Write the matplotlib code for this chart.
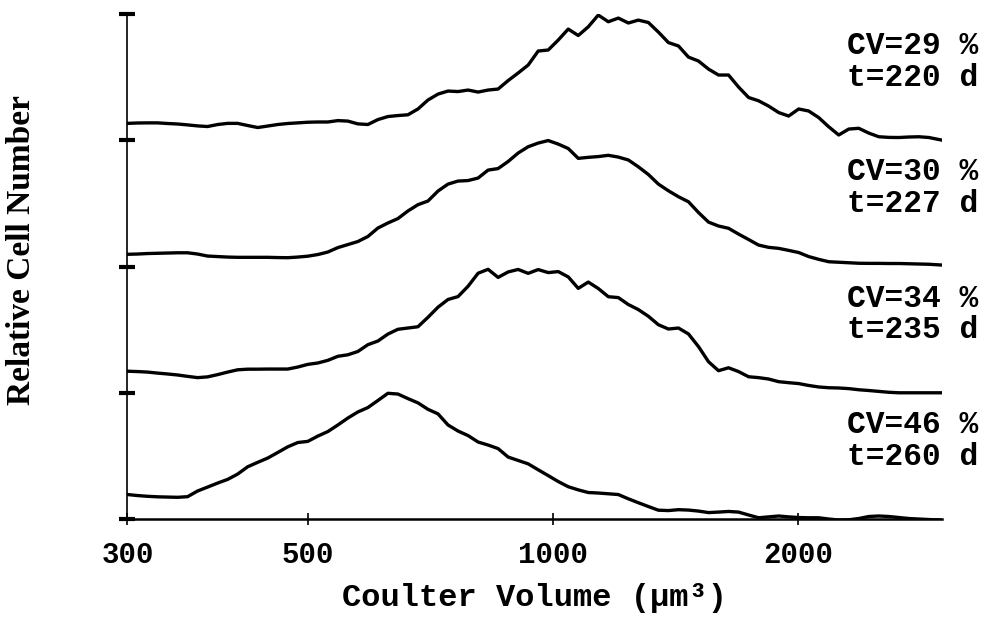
import matplotlib
matplotlib.use("Agg")
import matplotlib.pyplot as plt

# Coulter volume channels (um^3), log spaced
volume = [300.0, 308.6, 317.5, 326.6, 336.0, 345.7, 355.6, 365.8, 376.3, 387.2,
          398.3, 409.7, 421.5, 433.6, 446.1, 458.9, 472.1, 485.7, 499.6, 514.0,
          528.8, 544.0, 559.6, 575.6, 592.2, 609.2, 626.7, 644.7, 663.2, 682.3,
          701.9, 722.1, 742.8, 764.2, 786.2, 808.8, 832.0, 855.9, 880.5, 905.8,
          931.9, 958.7, 986.2, 1014.6, 1043.7, 1073.7, 1104.6, 1136.3, 1169.0, 1202.6,
          1237.2, 1272.7, 1309.3, 1346.9, 1385.7, 1425.5, 1466.5, 1508.6, 1552.0, 1596.6,
          1642.5, 1689.7, 1738.3, 1788.2, 1839.6, 1892.5, 1946.9, 2002.9, 2060.4, 2119.7,
          2180.6, 2243.3, 2307.8, 2374.1, 2442.3, 2512.5, 2584.7, 2659.0, 2735.5, 2814.1,
          2895.0, 3000.0]

# relative cell number, each histogram scaled to its maximum
counts_220d = [0.134, 0.137, 0.138, 0.138, 0.133, 0.129, 0.122, 0.114, 0.109, 0.125,
               0.134, 0.134, 0.117, 0.101, 0.113, 0.125, 0.133, 0.138, 0.143, 0.145,
               0.145, 0.156, 0.152, 0.130, 0.125, 0.164, 0.188, 0.196, 0.202, 0.248,
               0.319, 0.366, 0.390, 0.386, 0.398, 0.382, 0.398, 0.406, 0.473, 0.533,
               0.596, 0.707, 0.715, 0.794, 0.881, 0.830, 0.899, 0.992, 0.939, 0.968,
               0.929, 0.952, 0.933, 0.857, 0.774, 0.747, 0.659, 0.628, 0.564, 0.517,
               0.517, 0.422, 0.339, 0.313, 0.271, 0.220, 0.192, 0.248, 0.232, 0.180,
               0.107, 0.042, 0.089, 0.095, 0.057, 0.028, 0.023, 0.022, 0.026, 0.028,
               0.022, 0.002]

counts_227d = [0.097, 0.099, 0.103, 0.105, 0.107, 0.109, 0.109, 0.099, 0.083, 0.079,
               0.075, 0.073, 0.073, 0.073, 0.073, 0.071, 0.070, 0.075, 0.082, 0.095,
               0.115, 0.150, 0.174, 0.198, 0.238, 0.305, 0.345, 0.380, 0.440, 0.490,
               0.519, 0.598, 0.653, 0.677, 0.681, 0.701, 0.764, 0.776, 0.832, 0.899,
               0.949, 0.978, 0.998, 0.970, 0.935, 0.857, 0.865, 0.871, 0.881, 0.867,
               0.844, 0.790, 0.729, 0.653, 0.600, 0.553, 0.513, 0.428, 0.352, 0.321,
               0.303, 0.257, 0.214, 0.170, 0.152, 0.144, 0.128, 0.111, 0.079, 0.057,
               0.038, 0.034, 0.030, 0.026, 0.025, 0.025, 0.024, 0.024, 0.022, 0.020,
               0.018, 0.012]

counts_235d = [0.171, 0.168, 0.164, 0.156, 0.149, 0.141, 0.130, 0.120, 0.126, 0.144,
               0.164, 0.182, 0.187, 0.187, 0.188, 0.188, 0.188, 0.204, 0.225, 0.236,
               0.257, 0.289, 0.301, 0.327, 0.381, 0.410, 0.465, 0.503, 0.513, 0.523,
               0.598, 0.678, 0.739, 0.762, 0.844, 0.947, 0.978, 0.914, 0.957, 0.977,
               0.946, 0.976, 0.952, 0.960, 0.918, 0.827, 0.877, 0.826, 0.761, 0.754,
               0.699, 0.659, 0.606, 0.539, 0.505, 0.513, 0.466, 0.366, 0.246, 0.175,
               0.198, 0.168, 0.127, 0.120, 0.109, 0.088, 0.080, 0.073, 0.058, 0.046,
               0.040, 0.038, 0.033, 0.024, 0.018, 0.011, 0.004, 0.000, 0.000, 0.000,
               0.000, 0.000]

counts_260d = [0.194, 0.186, 0.180, 0.176, 0.174, 0.172, 0.177, 0.222, 0.253, 0.285,
               0.314, 0.356, 0.414, 0.449, 0.483, 0.527, 0.572, 0.606, 0.615, 0.657,
               0.693, 0.745, 0.800, 0.848, 0.883, 0.939, 0.996, 0.990, 0.954, 0.920,
               0.869, 0.833, 0.745, 0.697, 0.661, 0.610, 0.586, 0.558, 0.491, 0.464,
               0.437, 0.390, 0.344, 0.297, 0.256, 0.231, 0.210, 0.206, 0.200, 0.194,
               0.160, 0.129, 0.099, 0.070, 0.067, 0.074, 0.071, 0.063, 0.051, 0.055,
               0.060, 0.055, 0.032, 0.010, 0.017, 0.024, 0.017, 0.012, 0.010, 0.010,
               0.000, -0.008, -0.006, 0.004, 0.020, 0.024, 0.020, 0.012, 0.004, 0.000,
               -0.004, -0.008]

cv_percent = [29, 30, 34, 46]
age_days = [220, 227, 235, 260]
x_ticks = [300, 500, 1000, 2000]

series = [counts_220d, counts_227d, counts_235d, counts_260d]
n = len(series)

mono = "Liberation Mono"

fig = plt.figure(figsize=(9.92, 6.27), dpi=100)
ax = fig.add_axes([0.1285, 0.1722, 0.8206, 0.8054])

# stack the histograms, oldest culture at the bottom
for i, counts in enumerate(series):
    offset = n - 1 - i
    ax.plot(volume, [c + offset for c in counts], color="black", lw=2.4,
            solid_joinstyle="round")
    ax.text(3330, offset + 0.62, "CV=%d %%\nt=%d d" % (cv_percent[i], age_days[i]),
            ha="right", va="center", fontsize=22.5, fontweight="bold",
            family=mono, linespacing=1.08)

ax.set_xscale("log")
ax.set_xlim(300, 3000)
ax.set_ylim(0, n)

ax.set_xticks(x_ticks)
ax.set_xticklabels([str(t) for t in x_ticks])
ax.minorticks_off()
ax.set_yticks(range(n + 1))
ax.set_yticklabels([])

for s in ["top", "right"]:
    ax.spines[s].set_visible(False)
ax.spines["left"].set_linewidth(1.2)
ax.spines["bottom"].set_linewidth(1.8)
ax.spines["left"].set_bounds(0, n)

ax.tick_params(axis="y", direction="inout", length=12, width=3)
ax.tick_params(axis="x", direction="inout", length=9, width=1.2, pad=11)
for lab in ax.get_xticklabels():
    lab.set_fontsize(21)
    lab.set_fontweight("bold")
    lab.set_family(mono)

fig.text(535 / 992, 1 - 598 / 627, "Coulter Volume (\u03bcm\u00b3)",
         ha="center", va="center", fontsize=23, fontweight="bold", family=mono)
fig.text(22 / 992, 1 - 250 / 627, "Relative Cell Number", rotation=90,
         ha="center", va="center", fontsize=24, fontweight="bold",
         family="Liberation Serif")

fig.savefig("out.png", dpi=100)
